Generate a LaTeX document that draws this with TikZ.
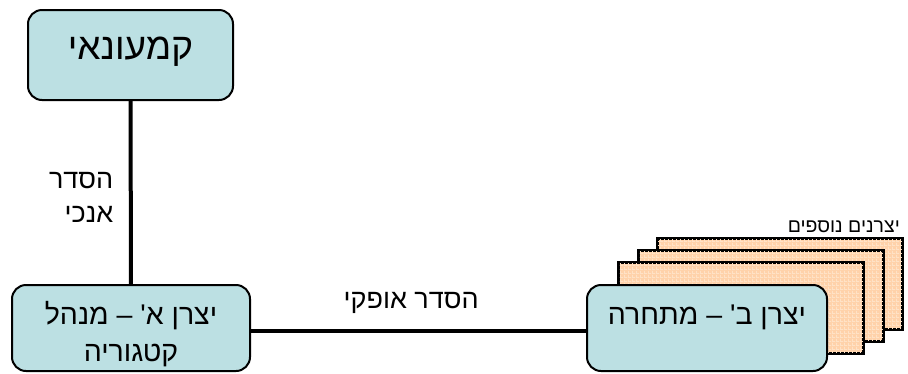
\documentclass[tikz,border=0pt]{standalone}
\usepackage{fontspec}
\usepackage{tikz}
\usetikzlibrary{patterns}
\usetikzlibrary{positioning}
\TeXXeTstate=1
\newfontfamily\hebfont[Script=Hebrew]{Liberation Sans}
\newcommand{\heb}[1]{\beginR#1\endR}
\definecolor{boxfill}{RGB}{188,224,227}
\definecolor{cardfill}{RGB}{255,210,170}
\definecolor{cardgrid}{RGB}{255,226,198}
\pgfdeclarepatternformonly{cardchecks}{\pgfqpoint{0pt}{0pt}}{\pgfqpoint{4pt}{4pt}}{\pgfqpoint{4pt}{4pt}}
{
	\pgfpathrectangle{\pgfqpoint{0pt}{0pt}}{\pgfqpoint{4pt}{1pt}}
	\pgfpathrectangle{\pgfqpoint{0pt}{1pt}}{\pgfqpoint{1pt}{3pt}}
	\pgfusepath{fill}
}
\tikzset{
	player/.style={draw=black,line width=2pt,fill=boxfill,rounded corners=14pt,inner sep=0pt},
	card/.style={draw=black,line width=2pt,fill=cardfill,inner sep=0pt,minimum width=244pt,minimum height=90pt},
	boxtext/.style={font=\hebfont\fontsize{28.5}{37}\selectfont,align=center,inner sep=0pt,anchor=base},
	linktext/.style={font=\hebfont\fontsize{27}{34}\selectfont,inner sep=0pt},
	link/.style={line width=4.5pt}
}
\begin{document}
\begin{tikzpicture}[x=1pt,y=-1pt]
				\useasboundingbox (0,0) rectangle (908,373);
				\def\dx{-19.3};
				\def\dy{12};
				\foreach \k in {0,1,2}
				{
					\node[card] (card\k) at ({780+\k*\dx},{284+\k*\dy}) {};
					\fill[pattern=cardchecks,pattern color=cardgrid] (card\k.south west) rectangle (card\k.north east);
					\draw[line width=2pt] (card\k.south west) rectangle (card\k.north east);
				}
				\node[linktext,font=\hebfont\fontsize{19.5}{20}\selectfont,anchor=base east] (others) at (900,232) {\heb{יצרנים נוספים}};
				\node[player,minimum width=205pt,minimum height=90pt] (retail) at (130.5,55) {};
				\node[player,minimum width=238pt,minimum height=86pt] (makerA) at (131,328) {};
				\node[player,minimum width=240pt,minimum height=86pt] (makerB) at (707,328) {};
				\node[boxtext,font=\hebfont\fontsize{37}{37}\selectfont] (retailtext) at ([yshift=-50pt]retail.north) {\heb{קמעונאי}};
				\node[boxtext] (makerAtext) at ([yshift=-77pt]makerA.north) {\heb{יצרן א' – מנהל}\\\heb{קטגוריה}};
				\node[boxtext] (makerBtext) at ([yshift=-40pt]makerB.north) {\heb{יצרן ב' – מתחרה}};
				\draw[link,line width=4pt] (retail) -- (makerA)
				node[linktext,pos=0.5,anchor=base east,align=right,xshift=-15.5pt,yshift=-29.5pt] (vlabel) {\heb{הסדר}\\\heb{אנכי}};
				\draw[link] ([yshift=-3pt]makerA.east) -- ([yshift=-3pt]makerB.west)
				node[linktext,pos=0.478,anchor=base,yshift=23pt] (hlabel) {\heb{הסדר אופקי}};
\end{tikzpicture}
\end{document}
